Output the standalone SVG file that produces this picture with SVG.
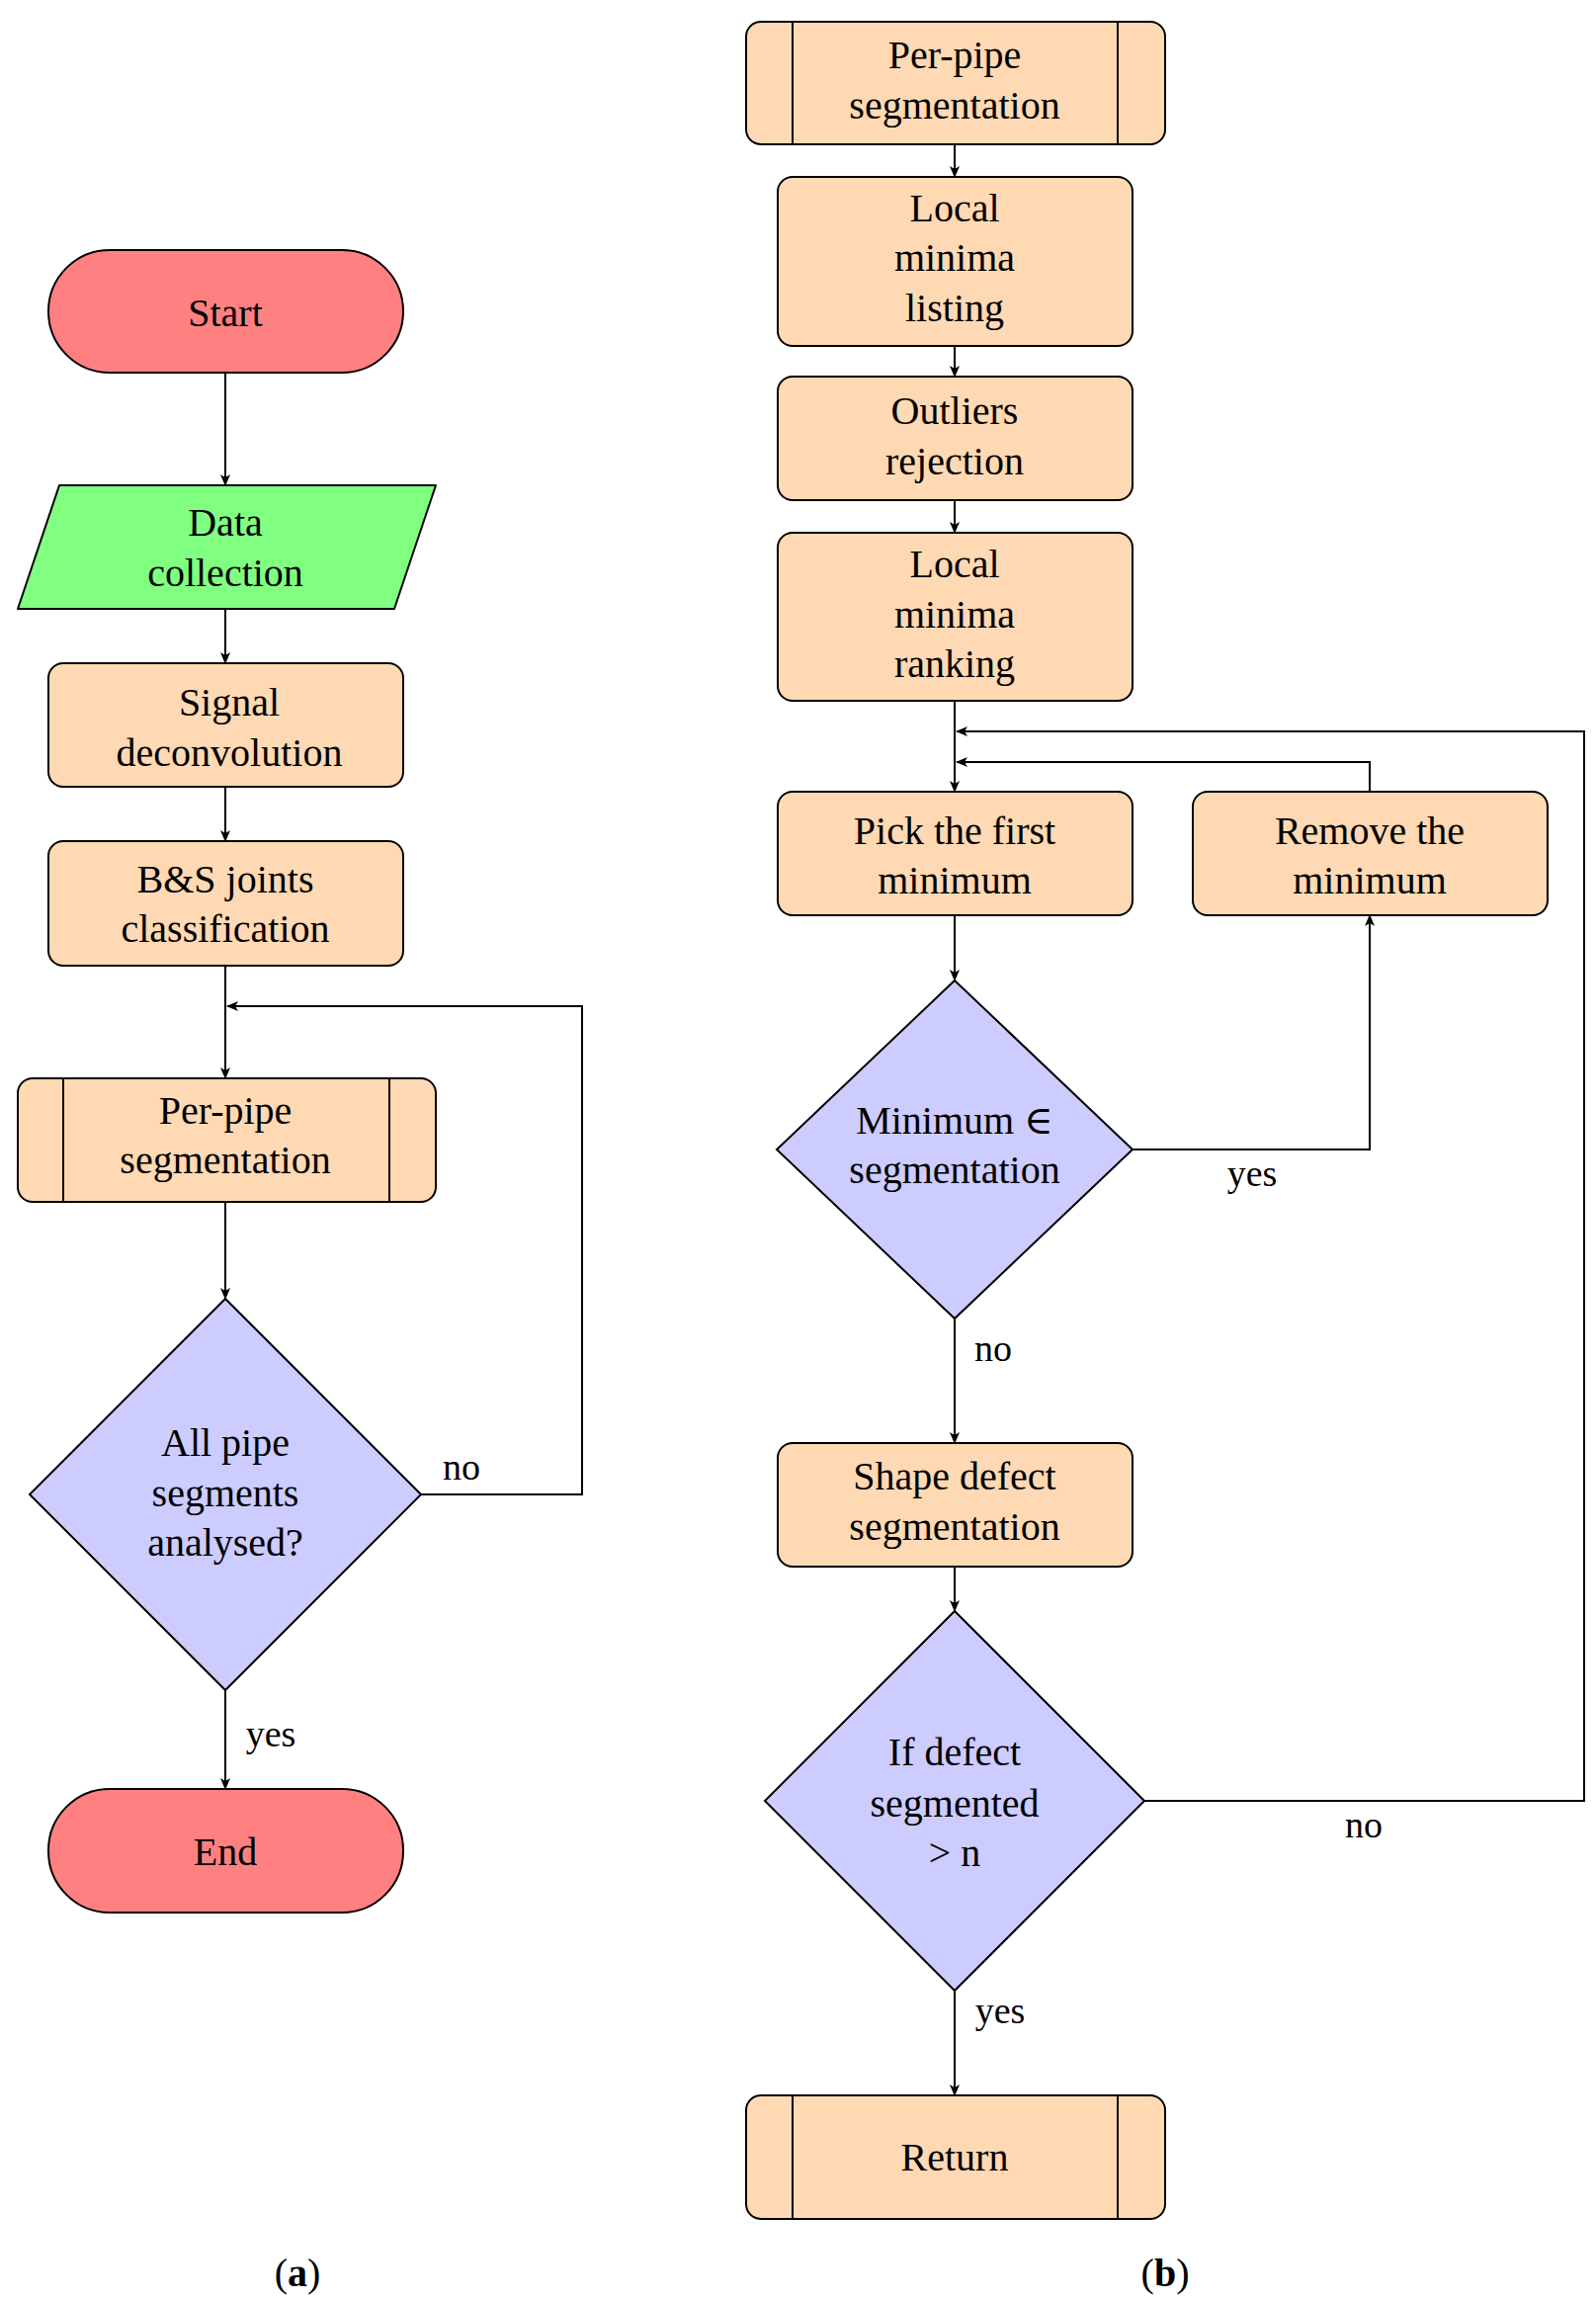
<svg xmlns="http://www.w3.org/2000/svg" width="1615" height="2326" viewBox="0 0 1615 2326">
<style>
text{font-family:"Liberation Serif","DejaVu Serif",serif;font-size:40px;text-anchor:middle;dominant-baseline:central;fill:#000}
.p{fill:#FFD9B3;stroke:#000;stroke-width:2}
.t{fill:#FF8080;stroke:#000;stroke-width:2}
.io{fill:#80FF80;stroke:#000;stroke-width:2}
.d{fill:#CCCCFF;stroke:#000;stroke-width:2}
.c{fill:none;stroke:#000;stroke-width:2;marker-end:url(#a)}
.l{font-size:38px}
</style>
<defs><marker id="a" markerWidth="12" markerHeight="10" refX="11" refY="5" orient="auto" markerUnits="userSpaceOnUse"><path d="M0,0 L12,5 L0,10 L3,5 z" fill="#000"/></marker></defs>
<rect width="1615" height="2326" fill="#fff"/>
<g id="connectors">
<path class="c" d="M228,377 V491"/>
<path class="c" d="M228,616 V671"/>
<path class="c" d="M228,796 V851"/>
<path class="c" d="M228,977 V1091"/>
<path class="c" d="M228,1216 V1314"/>
<path class="c" d="M228,1710 V1810"/>
<path class="c" d="M426,1512 H589 V1018 H230"/>
<path class="c" d="M966,146 V179"/>
<path class="c" d="M966,350 V381"/>
<path class="c" d="M966,506 V539"/>
<path class="c" d="M966,709 V801"/>
<path class="c" d="M966,926 V992"/>
<path class="c" d="M1146,1163 H1386 V926"/>
<path class="c" d="M1386,801 V771 H968"/>
<path class="c" d="M966,1334 V1460"/>
<path class="c" d="M966,1585 V1630"/>
<path class="c" d="M1158,1822 H1603 V740 H968"/>
<path class="c" d="M966,2014 V2120"/>
</g>
<g id="start"><rect class="t" x="49" y="253" width="359" height="124" rx="62"/><text x="228" y="316">Start</text></g>
<g id="data"><path class="io" d="M60,491 H441 L399,616 H18 Z" stroke-linejoin="round"/><text x="228" y="528">Data</text><text x="228" y="579">collection</text></g>
<g id="signal"><rect class="p" x="49" y="671" width="359" height="125" rx="15"/><text x="232" y="710">Signal</text><text x="232" y="761">deconvolution</text></g>
<g id="bs"><rect class="p" x="49" y="851" width="359" height="126" rx="15"/><text x="228" y="889">B&amp;S joints</text><text x="228" y="939">classification</text></g>
<g id="perpipe-a"><rect class="p" x="18" y="1091" width="423" height="125" rx="15"/><path d="M64,1091 V1216 M394,1091 V1216" stroke="#000" stroke-width="2"/><text x="228" y="1123">Per-pipe</text><text x="228" y="1173">segmentation</text></g>
<g id="allpipe"><path class="d" d="M228,1314 L426,1512 L228,1710 L30,1512 Z"/><text x="228" y="1459">All pipe</text><text x="228" y="1510">segments</text><text x="228" y="1560">analysed?</text></g>
<g id="end"><rect class="t" x="49" y="1810" width="359" height="125" rx="62"/><text x="228" y="1873">End</text></g>
<text class="l" x="467" y="1484">no</text>
<text class="l" x="274" y="1754">yes</text>
<text x="301" y="2299">(<tspan font-weight="bold">a</tspan>)</text>
<g id="perpipe-b"><rect class="p" x="755" y="22" width="424" height="124" rx="15"/><path d="M802,22 V146 M1131,22 V146" stroke="#000" stroke-width="2"/><text x="966" y="55">Per-pipe</text><text x="966" y="106">segmentation</text></g>
<g id="listing"><rect class="p" x="787" y="179" width="359" height="171" rx="15"/><text x="966" y="210">Local</text><text x="966" y="260">minima</text><text x="966" y="311">listing</text></g>
<g id="outliers"><rect class="p" x="787" y="381" width="359" height="125" rx="15"/><text x="966" y="415">Outliers</text><text x="966" y="466">rejection</text></g>
<g id="ranking"><rect class="p" x="787" y="539" width="359" height="170" rx="15"/><text x="966" y="570">Local</text><text x="966" y="621">minima</text><text x="966" y="671">ranking</text></g>
<g id="pick"><rect class="p" x="787" y="801" width="359" height="125" rx="15"/><text x="966" y="840">Pick the first</text><text x="966" y="890">minimum</text></g>
<g id="remove"><rect class="p" x="1207" y="801" width="359" height="125" rx="15"/><text x="1386" y="840">Remove the</text><text x="1386" y="890">minimum</text></g>
<g id="minseg"><path class="d" d="M966,992 L1146,1163 L966,1334 L786,1163 Z"/><text x="966" y="1133">Minimum ∈</text><text x="966" y="1183">segmentation</text></g>
<g id="shape"><rect class="p" x="787" y="1460" width="359" height="125" rx="15"/><text x="966" y="1493">Shape defect</text><text x="966" y="1544">segmentation</text></g>
<g id="ifdefect"><path class="d" d="M966,1630 L1158,1822 L966,2014 L774,1822 Z"/><text x="966" y="1772">If defect</text><text x="966" y="1824">segmented</text><text x="966" y="1874">&gt; n</text></g>
<g id="return"><rect class="p" x="755" y="2120" width="424" height="125" rx="15"/><path d="M802,2120 V2245 M1131,2120 V2245" stroke="#000" stroke-width="2"/><text x="966" y="2182">Return</text></g>
<text class="l" x="1267" y="1187">yes</text>
<text class="l" x="1005" y="1364">no</text>
<text class="l" x="1380" y="1846">no</text>
<text class="l" x="1012" y="2034">yes</text>
<text x="1179" y="2299">(<tspan font-weight="bold">b</tspan>)</text>
</svg>
